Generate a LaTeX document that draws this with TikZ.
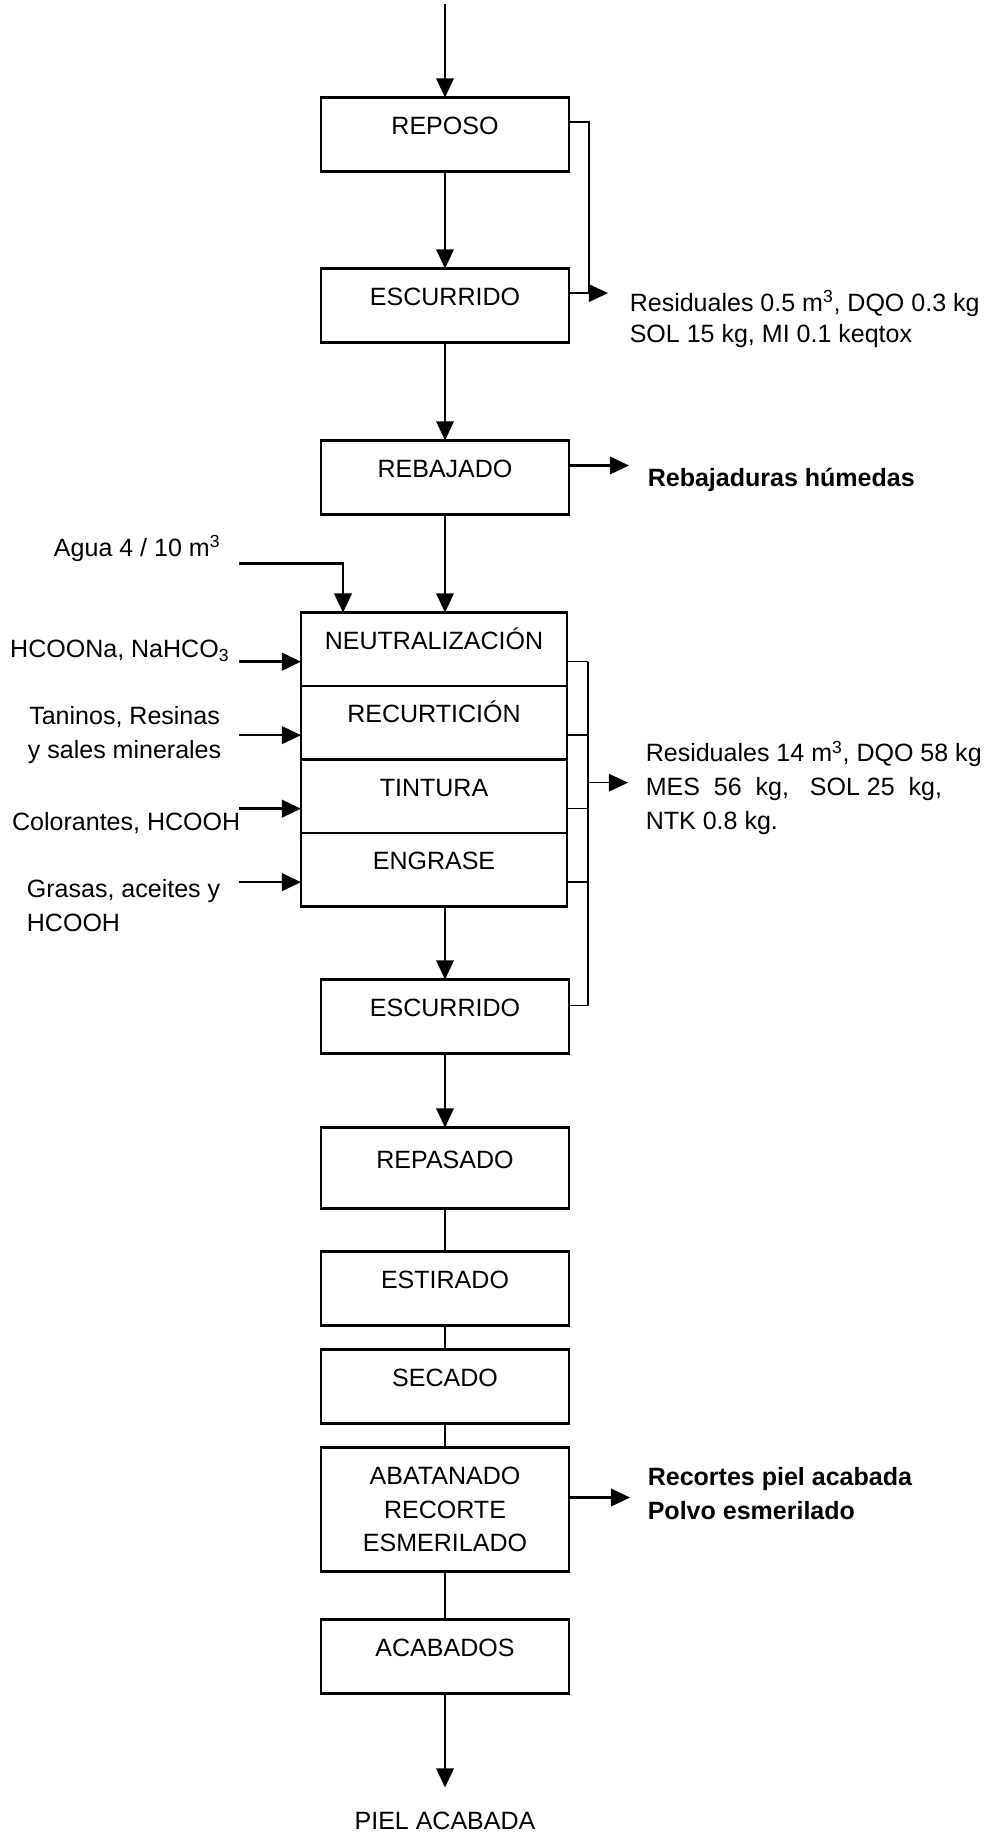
\documentclass[tikz,border=0pt]{standalone}
\usepackage{fontspec}
\setmainfont{Liberation Sans}
\usetikzlibrary{positioning,arrows.meta}

\tikzset{
  proc/.style={draw, line width=1.5pt, minimum width=6.2cm, minimum height=1.85cm,
    inner sep=0pt, outer sep=0pt, text height=0.45cm, text depth=0.45cm},
  etapa/.style={proc, minimum width=6.65cm, minimum height=1.8375cm},
  procm/.style={draw, line width=1.5pt, minimum width=6.2cm, minimum height=3.1cm,
    outer sep=0pt, align=center},
  nota/.style={inner sep=0pt},
  gruesa/.style={line width=1.8pt},
}

\begin{document}
\begin{tikzpicture}[->, >={Triangle[length=0.48cm,width=0.44cm]}, line width=1.1pt,
    font=\fontsize{17.8pt}{24pt}\selectfont]
  \useasboundingbox (0,0) rectangle (24.7,-45.85);

  % linea principal
  \coordinate (inicio) at (11.125,-0.1);
  \node[proc] (reposo) at (11.125,-3.3625) {REPOSO};
  \node[proc] (escurrido1) [below=2.425cm of reposo] {ESCURRIDO};
  \node[proc] (rebajado) [below=2.45cm of escurrido1] {REBAJADO};
  \node[etapa] (neut) [below=2.45cm of rebajado, xshift=-0.275cm] {NEUTRALIZACIÓN};
  \node[etapa] (recurt) [below=0pt of neut] {RECURTICIÓN};
  \node[etapa] (tintura) [below=0pt of recurt] {TINTURA};
  \node[etapa] (engrase) [below=0pt of tintura] {ENGRASE};
  \node[proc] (escurrido2) [below=1.825cm of engrase, xshift=0.275cm] {ESCURRIDO};
  \node[proc, minimum height=2.025cm] (repasado) [below=1.85cm of escurrido2] {REPASADO};
  \node[proc] (estirado) [below=1.075cm of repasado] {ESTIRADO};
  \node[proc] (secado) [below=0.6cm of estirado] {SECADO};
  \node[procm] (abatanado) [below=0.6cm of secado] {ABATANADO\\RECORTE\\ESMERILADO};
  \node[proc] (acabados) [below=1.2cm of abatanado] {ACABADOS};
  \node[nota] (fin) [below=2.95cm of acabados] {PIEL ACABADA};

  \path
  (inicio) edge (reposo)
  (reposo) edge (escurrido1)
  (escurrido1) edge (rebajado)
  (rebajado) edge (rebajado |- neut.north)
  (escurrido2 |- engrase.south) edge (escurrido2)
  (escurrido2) edge (repasado)
  (repasado) edge[-] (estirado)
  (estirado) edge[-] (secado)
  (secado) edge[-] (abatanado)
  (abatanado) edge[-] (acabados)
  (acabados) edge ([yshift=0.6cm]fin.north);

  % residuales y salidas
  \draw[-] ([yshift=0.31cm]reposo.east) -| ([xshift=0.5cm,yshift=0.31cm]escurrido1.east);
  \draw ([yshift=0.31cm]escurrido1.east) -- ++(0.975,0) coordinate (s1);
  \node[nota, anchor=west, align=left, font=\fontsize{17.8pt}{22pt}\selectfont] (res1)
    at ([xshift=0.525cm,yshift=-0.64cm]s1) {Residuales 0.5 m\textsuperscript{3}, DQO 0.3 kg\\SOL 15 kg, MI 0.1 keqtox};

  \draw[gruesa] ([yshift=0.3cm]rebajado.east) -- ++(1.5,0) coordinate (s3);
  \node[nota, anchor=base west, font=\fontsize{17.8pt}{24pt}\selectfont\bfseries] (rebajaduras)
    at ([xshift=0.45cm,yshift=-0.525cm]s3) {Rebajaduras húmedas};

  \foreach \n in {neut, recurt, tintura, engrase}
    \draw[-] ([yshift=-0.31cm]\n.east) -- ++(0.525,0);
  \draw[-] ([xshift=0.525cm,yshift=-0.31cm]neut.east) |- ([yshift=0.275cm]escurrido2.east);
  \draw ([xshift=0.525cm,yshift=0.34cm]tintura.east) -- ++(1,0) coordinate (s2);
  \node[nota, anchor=west, align=left] (res2) at ([xshift=0.425cm,yshift=-0.125cm]s2)
    {Residuales 14 m\textsuperscript{3}, DQO 58 kg\\MES\ \ 56\ \ kg,\ \ \ SOL 25\ \ kg,\\NTK 0.8 kg.};

  \draw[gruesa] ([yshift=0.3cm]abatanado.east) -- ++(1.525,0) coordinate (s4);
  \node[nota, anchor=west, align=left, font=\fontsize{17.8pt}{24pt}\selectfont\bfseries] (recortes)
    at ([xshift=0.425cm,yshift=0.1cm]s4) {Recortes piel acabada\\Polvo esmerilado};

  % entradas
  \coordinate (e0) at ([xshift=-4.875cm,yshift=1.225cm]neut.north);
  \draw[gruesa] (e0) -| ([xshift=-2.275cm]neut.north);
  \node[nota, anchor=base east] (agua) at ([xshift=-0.45cm,yshift=0.175cm]e0) {Agua 4 / 10 m\textsuperscript{3}};
  \foreach \n/\e in {neut/e1, recurt/e2, tintura/e3, engrase/e4}
    \draw[gruesa] ([xshift=-1.55cm,yshift=-0.31cm]\n.west) coordinate (\e) -- ([yshift=-0.31cm]\n.west);
  \node[nota, anchor=base east] (hcoona) at ([xshift=-0.225cm,yshift=0.1cm]e1) {HCOONa, NaHCO\textsubscript{3}};
  \node[nota, anchor=east, align=center] (taninos) at ([xshift=-0.425cm]e2) {Taninos, Resinas\\y sales minerales};
  \node[nota, anchor=base east] (colorantes) at ([xshift=0.05cm,yshift=-0.55cm]e3) {Colorantes, HCOOH};
  \node[nota, anchor=east, align=left] (grasas) at ([xshift=-0.45cm,yshift=-0.5875cm]e4) {Grasas, aceites y\\HCOOH};
\end{tikzpicture}
\end{document}
